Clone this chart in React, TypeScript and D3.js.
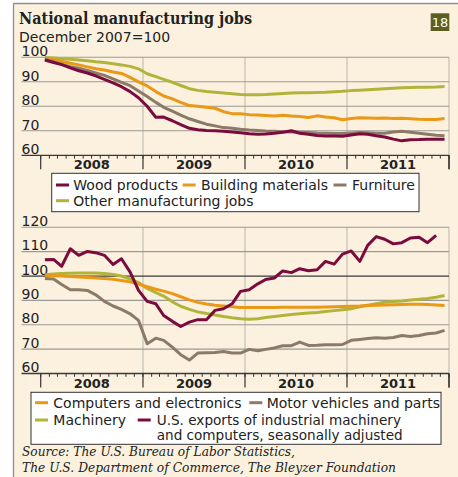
import * as d3 from "d3";

// monthly index values, Jan 2008 .. Dec 2011 (Dec 2007 = 100)
const woodProducts = [
  98.9, 97.9, 97.0, 95.7, 94.5, 93.6, 92.4, 91.0, 89.6, 88.0, 86.0, 83.5,
  80.0, 75.5, 75.6, 74.1, 72.5, 71.0, 70.4, 70.1, 70.0, 69.8, 69.5, 69.2,
  68.8, 68.6, 68.7, 69.0, 69.4, 70.0, 69.0, 68.6, 68.1, 67.9, 67.9, 67.8,
  68.3, 68.8, 68.6, 68.0, 67.5, 66.6, 65.9, 66.3, 66.4, 66.6, 66.6, 66.6,
];
const buildingMaterials = [
  99.6, 99.0, 98.4, 97.6, 96.9, 96.1, 95.3, 94.8, 94.0, 93.4, 91.8, 90.0,
  88.3, 86.0, 84.2, 83.0, 81.6, 80.3, 80.0, 79.6, 79.2, 77.8, 77.0, 77.0,
  76.6, 76.4, 76.2, 76.0, 76.3, 76.0, 75.8, 75.4, 76.1, 75.6, 75.3, 74.5,
  75.0, 75.3, 75.2, 75.1, 75.2, 75.0, 75.1, 74.9, 74.7, 74.6, 74.6, 75.0,
];
const furniture = [
  99.2, 98.2, 97.2, 96.2, 95.5, 94.6, 93.6, 92.6, 91.2, 89.8, 88.4, 86.2,
  84.0, 81.6, 79.6, 78.0, 76.4, 74.9, 73.8, 72.7, 72.0, 71.3, 71.0, 70.6,
  70.3, 70.1, 69.9, 69.8, 69.6, 69.5, 69.4, 69.3, 69.1, 69.0, 68.9, 68.9,
  69.1, 69.3, 69.2, 69.0, 69.0, 69.5, 69.8, 69.4, 69.0, 68.6, 68.2, 68.0,
];
const otherManufacturing = [
  99.9, 99.7, 99.4, 99.2, 98.9, 98.6, 98.2, 97.9, 97.4, 96.9, 96.3, 95.3,
  93.3, 92.1, 91.0, 89.8, 88.5, 87.2, 86.5, 86.0, 85.7, 85.4, 85.1, 84.8,
  84.7, 84.7, 84.8, 85.0, 85.2, 85.4, 85.5, 85.5, 85.6, 85.7, 85.9, 86.1,
  86.4, 86.6, 86.8, 87.0, 87.2, 87.4, 87.6, 87.7, 87.8, 87.8, 87.9, 88.1,
];

const computers = [
  100.3, 100.1, 100.0, 99.8, 99.6, 99.4, 99.2, 99.0, 98.7, 98.2, 97.6, 96.7,
  95.6, 94.6, 93.8, 92.8, 91.5, 90.2, 89.2, 88.5, 88.0, 87.7, 87.4, 87.1,
  87.1, 87.1, 87.1, 87.1, 87.2, 87.2, 87.2, 87.2, 87.2, 87.3, 87.4, 87.5,
  87.6, 87.7, 87.9, 88.0, 88.1, 88.2, 88.3, 88.4, 88.4, 88.3, 88.1, 87.9,
];
const motorVehicles = [
  99.0, 98.8, 96.5, 94.4, 94.4, 94.1, 92.3, 89.6, 87.7, 86.3, 84.5, 81.8,
  72.2, 74.5, 73.6, 70.8, 67.7, 65.5, 68.4, 68.5, 68.6, 69.0, 68.4, 68.4,
  69.9, 69.3, 69.9, 70.5, 71.4, 71.4, 72.9, 71.5, 71.6, 71.8, 71.8, 71.9,
  73.6, 74.0, 74.4, 74.7, 74.5, 74.8, 75.6, 75.2, 75.6, 76.3, 76.6, 77.7,
];
const machinery = [
  100.5, 100.8, 101.0, 101.1, 101.2, 101.2, 101.2, 101.0, 100.6, 100.0, 98.8, 97.3,
  94.9, 93.2, 91.8, 89.4, 87.6, 86.3, 85.3, 84.6, 84.0, 83.4, 82.9, 82.5,
  82.3, 82.5, 83.0, 83.4, 83.8, 84.2, 84.5, 84.8, 85.0, 85.4, 85.8, 86.2,
  86.6, 87.4, 88.0, 88.6, 89.2, 89.5, 89.8, 90.2, 90.5, 90.8, 91.3, 92.0,
];
// Jan 2008 .. Nov 2011
const exports = [
  106.7, 106.8, 104.0, 111.2, 108.5, 110.1, 109.6, 108.5, 104.7, 107.1, 101.6, 94.1,
  89.6, 88.6, 83.8, 81.4, 79.3, 81.1, 82.1, 82.1, 85.9, 86.6, 88.6, 93.7,
  94.4, 96.8, 98.6, 99.2, 102.1, 101.4, 103.0, 102.2, 102.6, 106.0, 104.9, 109.0,
  110.3, 106.0, 112.6, 116.2, 115.1, 113.2, 113.7, 115.6, 115.9, 113.7, 116.7,
];

const years = [2008, 2009, 2010, 2011];
const topTicks = [60, 70, 80, 90, 100];
const bottomTicks = [60, 70, 80, 90, 100, 110, 120];

const RED = "#7c0b3d";
const ORANGE = "#ea9816";
const GREY = "#8c7a69";
const OLIVE = "#b2b43a";
const BG = "#fbf1de";
const SANS = "DejaVu Sans, sans-serif";

const x = d3
  .scaleTime()
  .domain([new Date(2008, 0, 1), new Date(2012, 0, 1)])
  .range([40.7, 449]);
const monthMid = (i: number) => new Date(2008, i, 16);
const monthTicks = d3.timeMonth.range(new Date(2008, 0, 1), new Date(2012, 0, 2));
const yearTicks = d3.timeYear.range(new Date(2008, 0, 1), new Date(2012, 0, 2));

const yTop = d3.scaleLinear().domain([60, 100]).range([155.3, 57.3]);
const yBottom = d3.scaleLinear().domain([60, 120]).range([373.5, 227.3]);

function Panel({
  y,
  ticks,
  darkValue,
  series,
}: {
  y: d3.ScaleLinear<number, number>;
  ticks: number[];
  darkValue?: number;
  series: { values: number[]; color: string }[];
}) {
  const [lo, hi] = y.domain();
  const base = y(lo);
  const line = (vals: number[]) =>
    d3
      .line<number>()
      .x((_, i) => x(monthMid(i)))
      .y((v) => y(v))(vals) ?? undefined;
  return (
    <g>
      {yearTicks.slice(1).map((d) => (
        <line key={+d} x1={x(d)} x2={x(d)} y1={y(hi)} y2={base} stroke="#c4c0b8" strokeWidth="1.2" />
      ))}
      {ticks.map((t) => (
        <g key={t}>
          <line
            x1="21.5"
            x2="449"
            y1={y(t)}
            y2={y(t)}
            stroke={t === lo || t === darkValue ? "#3a3a3a" : "#9c9a96"}
            strokeWidth={t === lo || t === darkValue ? 1.3 : 1.1}
          />
          <text x="21.5" y={y(t) - 1.3} fontFamily={SANS} fontSize="14" fill="#222">
            {t}
          </text>
        </g>
      ))}
      {monthTicks.map((d) => (
        <line key={+d} x1={x(d)} x2={x(d)} y1={base} y2={base + 3.3} stroke="#333" strokeWidth="1" />
      ))}
      {yearTicks.concat([new Date(2012, 0, 1)]).map((d) => (
        <line key={"y" + +d} x1={x(d)} x2={x(d)} y1={base} y2={base + 14} stroke="#333" strokeWidth="1.2" />
      ))}
      {years.map((yr) => (
        <text
          key={yr}
          x={(x(new Date(yr, 0, 1)) + x(new Date(yr + 1, 0, 1))) / 2}
          y={base + 14}
          textAnchor="middle"
          fontFamily={SANS}
          fontWeight="bold"
          fontSize="13"
          fill="#222"
        >
          {yr}
        </text>
      ))}
      {series.map((s, i) => (
        <path key={i} d={line(s.values)} fill="none" stroke={s.color} strokeWidth="3" strokeLinejoin="round" />
      ))}
    </g>
  );
}

function Swatch({ x1, y, color }: { x1: number; y: number; color: string }) {
  return <line x1={x1} x2={x1 + 13} y1={y} y2={y} stroke={color} strokeWidth="3" />;
}

function Label({ x0, y, size = 14, children }: { x0: number; y: number; size?: number; children: React.ReactNode }) {
  return (
    <text x={x0} y={y} fontFamily={SANS} fontSize={size} fill="#222">
      {children}
    </text>
  );
}

export default function App() {
  return (
    <svg width={458} height={477} style={{ position: "absolute", left: 0, top: 0 }}>
      <rect width={458} height={477} fill="#fff" />
      <rect x={13.5} y={3.5} width={445} height={474} fill={BG} />
      <line x1={13.5} x2={13.5} y1={3.5} y2={477} stroke="#8f8f8f" strokeWidth="1.3" />
      <line x1={13.5} x2={458} y1={3.5} y2={3.5} stroke="#8f8f8f" strokeWidth="1.3" />

      <text x={19} y={24} fontFamily="DejaVu Serif, serif" fontWeight="bold" fontSize="16.5" fill="#222" textLength={233} lengthAdjust="spacingAndGlyphs">
        National manufacturing jobs
      </text>
      <text x={19} y={41.5} fontFamily={SANS} fontSize="14" fill="#222">
        December 2007=100
      </text>
      <rect x={430.7} y={13.3} width={18.6} height={17.7} fill="#5b5f1f" />
      <text x={440} y={27} textAnchor="middle" fontFamily={SANS} fontSize="13" fill="#fff">
        18
      </text>

      <Panel
        y={yTop}
        ticks={topTicks}
        series={[
          { values: otherManufacturing, color: OLIVE },
          { values: buildingMaterials, color: ORANGE },
          { values: furniture, color: GREY },
          { values: woodProducts, color: RED },
        ]}
      />

      <rect x={51.7} y={173.3} width={367.3} height={38.4} fill="#fff" stroke="#333" strokeWidth="1" />
      <Swatch x1={56} y={185} color={RED} />
      <Label x0={73.3} y={190}>Wood products</Label>
      <Swatch x1={182.7} y={185} color={ORANGE} />
      <Label x0={201} y={190}>Building materials</Label>
      <Swatch x1={333.5} y={185} color={GREY} />
      <Label x0={352} y={190}>Furniture</Label>
      <Swatch x1={56} y={200.7} color={OLIVE} />
      <Label x0={73.3} y={206}>Other manufacturing jobs</Label>

      <Panel
        y={yBottom}
        ticks={bottomTicks}
        darkValue={100}
        series={[
          { values: motorVehicles, color: GREY },
          { values: machinery, color: OLIVE },
          { values: computers, color: ORANGE },
          { values: exports, color: RED },
        ]}
      />

      <rect x={31} y={392.3} width={410} height={52} fill="#fff" stroke="#333" strokeWidth="1" />
      <Swatch x1={35} y={402.7} color={ORANGE} />
      <Label x0={53.3} y={408}>Computers and electronics</Label>
      <Swatch x1={249.3} y={402.7} color={GREY} />
      <Label x0={266.7} y={408}>Motor vehicles and parts</Label>
      <Swatch x1={35} y={420} color={OLIVE} />
      <Label x0={53.3} y={425}>Machinery</Label>
      <Swatch x1={137.7} y={420} color={RED} />
      <Label x0={156.7} y={425} size={13.6}>U.S. exports of industrial machinery</Label>
      <Label x0={156.7} y={440} size={13.6}>and computers, seasonally adjusted</Label>

      <text x={22} y={456} fontFamily="DejaVu Serif, serif" fontStyle="italic" fontSize="13" fill="#222" textLength={273} lengthAdjust="spacingAndGlyphs">
        Source: The U.S. Bureau of Labor Statistics,
      </text>
      <text x={22} y={472} fontFamily="DejaVu Serif, serif" fontStyle="italic" fontSize="13" fill="#222" textLength={374} lengthAdjust="spacingAndGlyphs">
        The U.S. Department of Commerce, The Bleyzer Foundation
      </text>
    </svg>
  );
}
